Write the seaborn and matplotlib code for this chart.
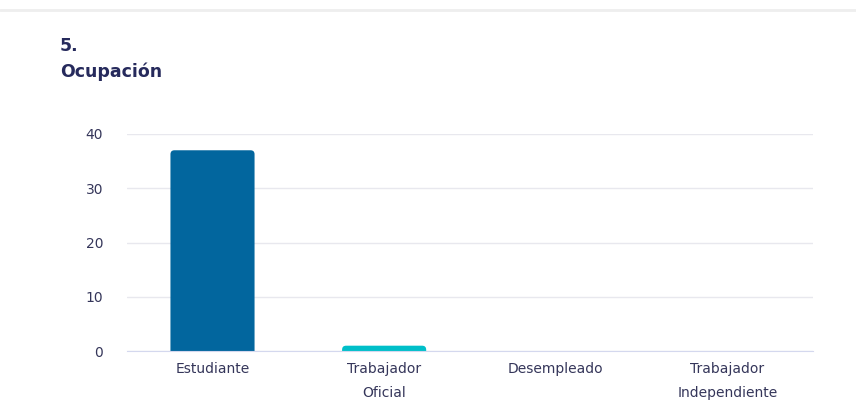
import matplotlib
matplotlib.use("Agg")
import matplotlib.pyplot as plt
from matplotlib.patches import FancyBboxPatch
import seaborn as sns
import pandas as pd

sns.set_style("white")
plt.rcParams['font.family'] = ['DejaVu Sans']

# data
categorias = ["Estudiante", "Trabajador\nOficial", "Desempleado", "Trabajador\nIndependiente"]
valores = [37, 1, 0, 0]
colores = ["#02669e", "#00bfc9", "#3d4fb0", "#8e9bd6"]

df = pd.DataFrame({"cat": categorias, "n": valores})

fig = plt.figure(figsize=(8.56, 4.2), dpi=100)
ax = fig.add_axes([0.148, 0.164, 0.802, 0.517])

sns.barplot(data=df, x="cat", y="n", hue="cat", palette=colores,
            width=0.49, legend=False, ax=ax, saturation=1)

ax.set_ylim(0, 40)
ax.set_xlim(-0.5, 3.5)

# rounded bar tops (corners ~4px)
px_x = 4 / 171.5
aspect = 171.5 / 5.425
for p in list(ax.patches):
    x, w, h = p.get_x(), p.get_width(), p.get_height()
    if h <= 0:
        p.remove()
        continue
    fb = FancyBboxPatch((x, -1), w, h + 1,
                        boxstyle=f"round,pad=0,rounding_size={px_x}",
                        mutation_aspect=aspect,
                        facecolor=p.get_facecolor(), edgecolor="none", zorder=2)
    p.remove()
    ax.add_patch(fb)

ax.set_yticks([0, 10, 20, 30, 40])
ax.yaxis.grid(True, color="#e8e8ee", linewidth=1)
ax.set_axisbelow(True)
for s in ["top", "right", "left"]:
    ax.spines[s].set_visible(False)
ax.spines["bottom"].set_color("#d4d8ee")
ax.spines["bottom"].set_zorder(3)
ax.set_xlabel("")
ax.set_ylabel("")
ax.tick_params(axis="y", length=0, pad=17, labelsize=10, labelcolor="#35365a")
ax.tick_params(axis="x", length=0, pad=8, labelsize=10, labelcolor="#35365a")
for t in ax.get_xticklabels():
    t.set_linespacing(1.9)
    t.set_verticalalignment("top")

fig.text(0.07, 0.86, "5.\nOcupación", fontsize=12.5, fontweight="bold",
         color="#262a5c", va="center", ha="left", linespacing=1.5)

# light card edge at the top
fig.add_artist(plt.Line2D([0.0, 1.0], [0.977, 0.977], color="#eeeeee", linewidth=2))

fig.savefig("out.png", dpi=100)
